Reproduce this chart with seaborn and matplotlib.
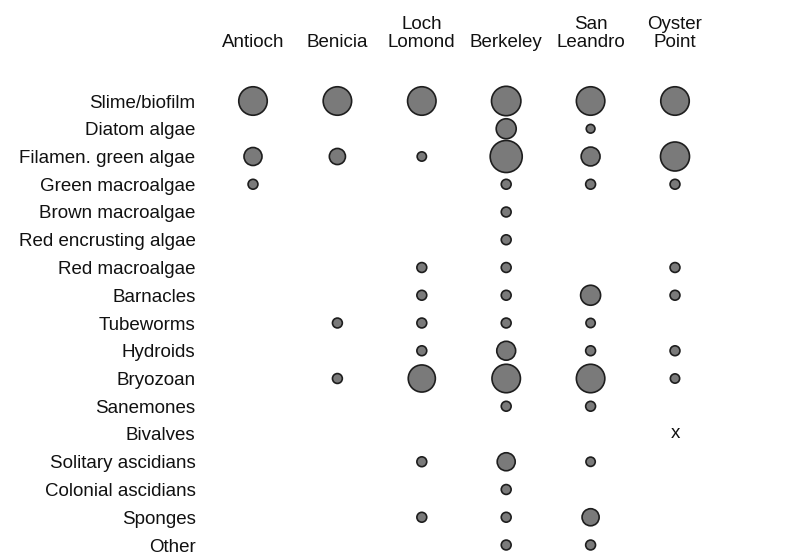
import matplotlib
matplotlib.use("Agg")
import matplotlib.pyplot as plt
import seaborn as sns
import pandas as pd

# Sites (columns) and taxa (rows)
sites = ["Antioch", "Benicia", "Loch\nLomond", "Berkeley", "San\nLeandro", "Oyster\nPoint"]
taxa = ["Slime/biofilm", "Diatom algae", "Filamen. green algae", "Green macroalgae",
        "Brown macroalgae", "Red encrusting algae", "Red macroalgae", "Barnacles",
        "Tubeworms", "Hydroids", "Bryozoan", "Sanemones", "Bivalves",
        "Solitary ascidians", "Colonial ascidians", "Sponges", "Other"]

# Estimated abundance (relative cover) per taxon, one value per site; 0 = absent
slime = [75, 75, 75, 80, 75, 75]
diatom = [0, 0, 0, 37, 7, 0]
filamen = [30, 24, 8, 95, 33, 78]
green_macro = [9, 0, 0, 9, 9, 9]
brown_macro = [0, 0, 0, 9, 0, 0]
red_encrust = [0, 0, 0, 9, 0, 0]
red_macro = [0, 0, 9, 9, 0, 9]
barnacles = [0, 0, 9, 9, 37, 9]
tubeworms = [0, 9, 9, 9, 8, 0]
hydroids = [0, 0, 9, 33, 9, 9]
bryozoan = [0, 9, 68, 75, 75, 8]
sanemones = [0, 0, 0, 9, 9, 0]
bivalves = [0, 0, 0, 0, 0, 0]
solitary = [0, 0, 9, 30, 8, 0]
colonial = [0, 0, 0, 9, 0, 0]
sponges = [0, 0, 9, 9, 27, 0]
other = [0, 0, 0, 9, 9, 0]

# Present but not quantified (drawn as "x")
present_only = [("Bivalves", "Oyster\nPoint")]

rows = [slime, diatom, filamen, green_macro, brown_macro, red_encrust, red_macro,
        barnacles, tubeworms, hydroids, bryozoan, sanemones, bivalves, solitary,
        colonial, sponges, other]

records = []
for ti, vals in enumerate(rows):
    for si, v in enumerate(vals):
        if v > 0:
            records.append({"site": si, "taxon": ti, "cover": v})
df = pd.DataFrame(records)

sns.set_style("white")
plt.rcParams["font.family"] = ["Liberation Sans", "DejaVu Sans"]
FS = 13.5

fig = plt.figure(figsize=(7.89, 5.54), dpi=100)
W, H = 789, 554
# axes placed so that column/row centres land where the reference has them
x0, x1 = 253, 675
dx = (x1 - x0) / 5
y0, dy = 101, 27.75
ylo = 16.2
left = (x0 - 0.5 * dx) / W
right = (x1 + 0.5 * dx) / W
top = (y0 - 0.5 * dy) / H
bottom = (y0 + ylo * dy) / H
ax = fig.add_axes([left, 1 - bottom, right - left, bottom - top])

sns.scatterplot(data=df, x="site", y="taxon", size="cover", sizes=(0, 560),
                size_norm=(0, 100), color="#7a7a7a", edgecolor="#1e1e1e",
                linewidth=1.2, legend=False, ax=ax, clip_on=False)

for taxon, site in present_only:
    ax.text(sites.index(site), taxa.index(taxon), "x", ha="center", va="center",
            fontsize=FS, color="#111111")

ax.set_xlim(-0.5, 5.5)
ax.set_ylim(ylo, -0.5)
ax.set_xticks(range(len(sites)))
ax.set_xticklabels(sites, fontsize=FS, linespacing=1.1, multialignment="center",
                   color="#111111")
ax.xaxis.tick_top()
ax.set_yticks(range(len(taxa)))
ax.set_yticklabels(taxa, fontsize=FS, color="#111111")
ax.tick_params(axis="both", length=0)
ax.tick_params(axis="y", pad=11)
ax.tick_params(axis="x", pad=26)
ax.set_xlabel("")
ax.set_ylabel("")
for s in ax.spines.values():
    s.set_visible(False)

plt.savefig("out.png", dpi=100)
